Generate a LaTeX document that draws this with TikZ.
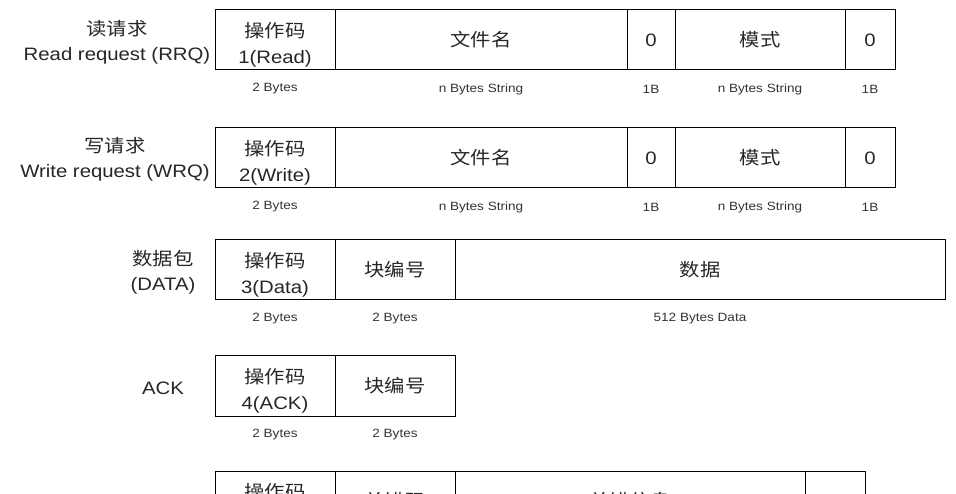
\documentclass[tikz,border=0pt]{standalone}
\usepackage{fontspec}
\setmainfont[FakeStretch=1.13]{Liberation Sans}
\newfontfamily\cjk[FakeStretch=1.13]{Noto Sans CJK SC}
\usetikzlibrary{positioning}

\tikzset{
 field/.style={draw, line width=1pt, inner sep=0pt, minimum height=60pt, align=center,
  text=black!85, font=\fontsize{18}{26}\selectfont},
 size/.style={inner sep=0pt, text=black!80, font=\fontsize{12}{14}\selectfont},
 kind/.style={inner sep=0pt, align=center, text=black!85, font=\fontsize{18}{24.5}\selectfont}
}

% one packet row: #1 name, #2 top edge, #3 list of left/right/text/size
\newcommand\fieldrow[3]{%
 \foreach \a/\b/\t/\s [count=\i] in {#3} {
  \pgfmathsetmacro\w{\b-\a}
  \pgfmathsetmacro\dy{\i==1 ? 4.5 : 0} % two-line opcode cell sits lower
  \node[field, minimum width=\w pt] (#1\i) at ({(\a+\b)/2},#2+30) {};
  \node[align=center, inner sep=0pt, font=\fontsize{18}{26}\selectfont, text=black!85]
   (#1t\i) at ({(\a+\b)/2},#2+30+\dy) {\t};
  \node[size] (#1s\i) at ({(\a+\b)/2},#2+79) {\s};
 }}

\begin{document}
\begin{tikzpicture}[x=1pt,y=-1pt]
\useasboundingbox (0,0) rectangle (956,494);
\clip (0,0) rectangle (956,494);

\node[kind] (rrq) at (117,42.5) {{\cjk 读请求}\\Read request (RRQ)};
\fieldrow{rrq}{10}{215/335/{{\cjk 操作码}\\1(Read)}/2 Bytes, 335/627/{\cjk 文件名}/n Bytes String,
 627/675/0/1B, 675/845/{\cjk 模式}/n Bytes String, 845/895/0/1B}

\node[kind] (wrq) at (115,159.5) {{\cjk 写请求}\\Write request (WRQ)};
\fieldrow{wrq}{128}{215/335/{{\cjk 操作码}\\2(Write)}/2 Bytes, 335/627/{\cjk 文件名}/n Bytes String,
 627/675/0/1B, 675/845/{\cjk 模式}/n Bytes String, 845/895/0/1B}

\node[kind] (data) at (163,272.5) {{\cjk 数据包}\\(DATA)};
\fieldrow{data}{240}{215/335/{{\cjk 操作码}\\3(Data)}/2 Bytes, 335/455/{\cjk 块编号}/2 Bytes,
 455/945/{\cjk 数据}/512 Bytes Data}

\node[kind] (ack) at (163,388) {ACK};
\fieldrow{ack}{356}{215/335/{{\cjk 操作码}\\4(ACK)}/2 Bytes, 335/455/{\cjk 块编号}/2 Bytes}

\node[kind] (err) at (157,502) {ERROR};
\fieldrow{err}{471}{215/335/{{\cjk 操作码}\\5(ERROR)}/{}, 335/455/{\cjk 差错码}/{},
 455/805/{\cjk 差错信息}/{}, 805/865/0/{}}
\end{tikzpicture}
\end{document}
